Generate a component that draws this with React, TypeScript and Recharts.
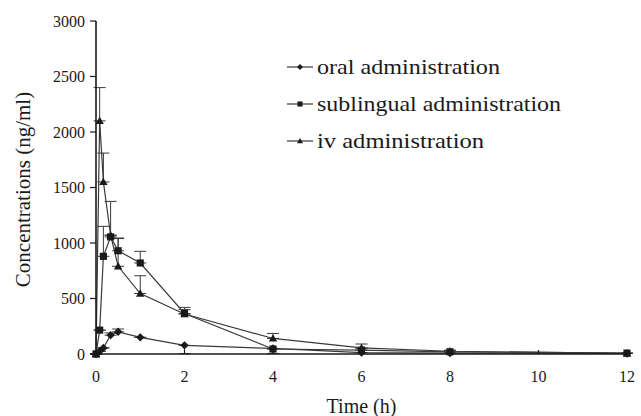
import React from 'react';
import { LineChart, Line, XAxis, YAxis, ErrorBar, Legend, Label } from 'recharts';

// sampling times (h)
const times = [0, 0.083, 0.167, 0.33, 0.5, 1, 2, 4, 6, 8, 12];

const oralMean = [0, 25, 55, 170, 200, 150, 78, 50, 12, 8, 5];
const oralErr = [[0, 0], [0, 0], [0, 0], [0, 20], [0, 25], [0, 0], [75, 0], [45, 0], [0, 0], [0, 0], [0, 0]];

const sublingualMean = [0, 215, 880, 1055, 930, 820, 365, 45, 35, 20, 8];
const sublingualErr = [[0, 0], [0, 0], [0, 270], [0, 320], [0, 115], [0, 105], [0, 55], [0, 0], [0, 15], [0, 8], [0, 0]];

const ivMean = [0, 2100, 1550, 1070, 790, 545, 360, 140, 55, 25, 5];
const ivErr = [[0, 0], [0, 300], [0, 260], [0, 0], [0, 250], [0, 160], [0, 40], [0, 45], [0, 35], [0, 10], [0, 0]];

const xTicks = [0, 2, 4, 6, 8, 10, 12];
const yTicks = [0, 500, 1000, 1500, 2000, 2500, 3000];

const seriesNames = ['oral administration', 'sublingual administration', 'iv administration'];

const data = times.map((t, i) => ({
    time: t,
    oral: oralMean[i],
    oralErr: oralErr[i],
    sublingual: sublingualMean[i],
    sublingualErr: sublingualErr[i],
    iv: ivMean[i],
    ivErr: ivErr[i],
}));

const INK = '#1a1a1a';
const LINE = '#3a3a3a';
const FONT = '"Liberation Serif", "Times New Roman", serif';

type Shape = 'diamond' | 'square' | 'triangle';

const Marker = ({ cx, cy, shape, s }: { cx: number; cy: number; shape: Shape; s: number }) => {
    if (cx == null || cy == null || isNaN(cx) || isNaN(cy)) return null;
    if (shape === 'diamond') {
        return <polygon points={`${cx},${cy - s} ${cx + s},${cy} ${cx},${cy + s} ${cx - s},${cy}`} fill={INK} />;
    }
    if (shape === 'square') {
        const h = s * 0.85;
        return <rect x={cx - h} y={cy - h} width={h * 2} height={h * 2} fill={INK} />;
    }
    return <polygon points={`${cx},${cy - s} ${cx + s},${cy + s * 0.75} ${cx - s},${cy + s * 0.75}`} fill={INK} />;
};

const dotFor = (shape: Shape) => (props: any) => (
    <Marker key={`${shape}-${props.index}`} cx={props.cx} cy={props.cy} shape={shape} s={4.2} />
);

const XTick = (props: any) => {
    const { x, y, payload } = props;
    return (
        <g>
            <line x1={x} x2={x} y1={y} y2={y - 4} stroke={INK} strokeWidth={1.2} />
            <text x={x} y={y + 28} textAnchor="middle" fontSize={16} fill={INK} fontFamily={FONT}>
                {payload.value}
            </text>
        </g>
    );
};

const legendShapes: Shape[] = ['diamond', 'square', 'triangle'];
const legendWidths = [183, 244, 167];

const renderLegend = () => (
    <svg width={300} height={110}>
        {seriesNames.map((name, i) => {
            const cy = 15 + i * 37;
            return (
                <g key={name}>
                    <line x1={0} x2={26} y1={cy} y2={cy} stroke={LINE} strokeWidth={1.2} />
                    <Marker cx={13} cy={cy} shape={legendShapes[i]} s={3} />
                    <text
                        x={30}
                        y={cy + 7}
                        fontSize={21}
                        fill={INK}
                        fontFamily={FONT}
                        textLength={legendWidths[i]}
                        lengthAdjust="spacingAndGlyphs"
                    >
                        {name}
                    </text>
                </g>
            );
        })}
    </svg>
);

export default function App() {
    return (
        <div style={{ position: 'absolute', left: 0, top: 0, width: 641, height: 416, fontFamily: FONT }}>
            <LineChart width={641} height={416} data={data} margin={{ top: 21, right: 14, bottom: 22, left: 36 }}>
                <XAxis
                    dataKey="time"
                    type="number"
                    domain={[0, 12]}
                    ticks={xTicks}
                    interval={0}
                    height={40}
                    tickSize={0}
                    tickMargin={0}
                    tickLine={false}
                    tick={<XTick />}
                    axisLine={{ stroke: INK, strokeWidth: 1.6 }}
                >
                    <Label value="Time (h)" position="bottom" offset={5} fontSize={20} fill={INK} fontFamily={FONT} />
                </XAxis>
                <YAxis
                    type="number"
                    domain={[0, 3000]}
                    ticks={yTicks}
                    interval={0}
                    width={60}
                    tickSize={6}
                    tickMargin={5}
                    tick={{ fontSize: 16, fill: INK, fontFamily: FONT }}
                    tickLine={{ stroke: INK, strokeWidth: 1.2 }}
                    axisLine={{ stroke: INK, strokeWidth: 1.6 }}
                >
                    <Label
                        content={({ viewBox }: any) => (
                            <text
                                transform={`translate(23, ${viewBox.y + viewBox.height / 2 + 2}) rotate(-90)`}
                                textAnchor="middle"
                                dominantBaseline="central"
                                fontSize={21}
                                fill={INK}
                                fontFamily={FONT}
                            >
                                Concentrations (ng/ml)
                            </text>
                        )}
                    />
                </YAxis>
                <Legend
                    layout="vertical"
                    align="center"
                    verticalAlign="middle"
                    content={renderLegend}
                    wrapperStyle={{ left: 287, top: 52, width: 300, height: 110 }}
                />
                <Line dataKey="oral" name={seriesNames[0]} stroke={LINE} strokeWidth={1.2} dot={dotFor('diamond')} isAnimationActive={false}>
                    <ErrorBar dataKey="oralErr" width={6} stroke={LINE} strokeWidth={1} direction="y" />
                </Line>
                <Line dataKey="sublingual" name={seriesNames[1]} stroke={LINE} strokeWidth={1.2} dot={dotFor('square')} isAnimationActive={false}>
                    <ErrorBar dataKey="sublingualErr" width={6} stroke={LINE} strokeWidth={1} direction="y" />
                </Line>
                <Line dataKey="iv" name={seriesNames[2]} stroke={LINE} strokeWidth={1.2} dot={dotFor('triangle')} isAnimationActive={false}>
                    <ErrorBar dataKey="ivErr" width={6} stroke={LINE} strokeWidth={1} direction="y" />
                </Line>
            </LineChart>
        </div>
    );
}
